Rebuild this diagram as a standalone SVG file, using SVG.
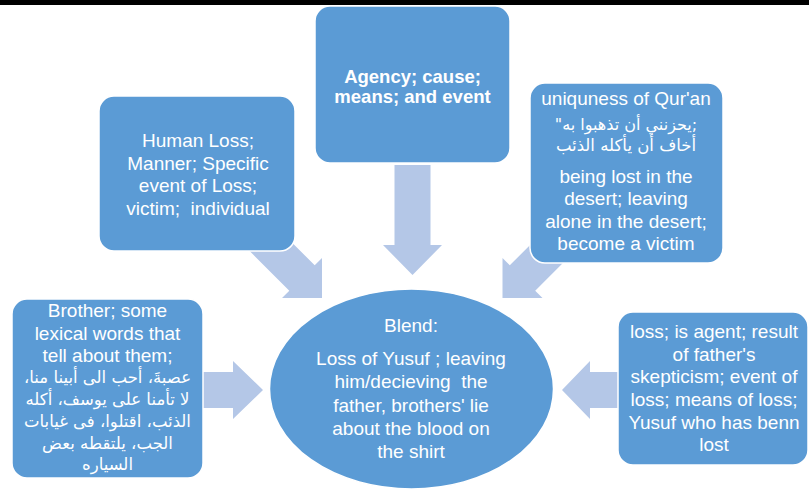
<svg xmlns="http://www.w3.org/2000/svg" width="809" height="489" viewBox="0 0 809 489">
<style>
.box{fill:#5B9BD5;stroke:#fff;stroke-width:1.5}
.arr{fill:#B4C7E7}
.t{font-family:"Liberation Sans",Arial,sans-serif;font-size:19px;fill:#fff;text-anchor:middle}
.b{font-weight:bold;font-size:18.5px}
.ar{font-family:"DejaVu Sans",sans-serif;font-size:16.5px;fill:#fff;text-anchor:middle}
</style>
<rect x="0" y="0" width="809" height="489" fill="#fff"/>
<rect x="0" y="0" width="809" height="5" fill="#000"/>
<g id="connectors">
<polygon class="arr" points="394.5,165 430.5,165 430.5,245 442,245 412.5,275 383,245 394.5,245"/>
<polygon class="arr" points="232.7,234.1 289.3,290.7 282,298 322,298 322,258 314.7,265.3 258.1,208.7"/>
<polygon class="arr" points="591.8,234.1 535.2,290.7 542.5,298 502.5,298 502.5,258 509.8,265.3 566.4,208.7"/>
<polygon class="arr" points="195,372 233,372 233,361 263,390 233,419 233,408 195,408"/>
<polygon class="arr" points="625,372 590,372 590,361 562,390 590,419 590,408 625,408"/>
</g>
<g id="node-agency">
<rect class="box" x="315" y="6" width="195" height="157" rx="15"/>
<text class="t b" x="412.5" y="82.5">Agency; cause;</text>
<text class="t b" x="412.5" y="102.5">means; and event</text>
</g>
<g id="node-human">
<rect class="box" x="99" y="96" width="196" height="155" rx="15"/>
<text class="t" x="198" y="147">Human Loss;</text>
<text class="t" x="198" y="169.5">Manner; Specific</text>
<text class="t" x="198" y="192">event of Loss;</text>
<text class="t" x="198" y="214.5" xml:space="preserve">victim;  individual</text>
</g>
<g id="node-quran">
<rect class="box" x="530" y="83" width="193" height="180" rx="15"/>
<text class="t" x="626" y="105">uniquness of Qur'an</text>
<text class="ar" x="626" y="130" style="font-size:16px">&#x200F;;يحزنني أن تذهبوا به"&#x200F;</text>
<text class="ar" x="626" y="151">أخاف أن يأكله الذئب</text>
<text class="t" x="626" y="182.5">being lost in the</text>
<text class="t" x="626" y="205">desert; leaving</text>
<text class="t" x="626" y="227.5">alone in the desert;</text>
<text class="t" x="626" y="250">become a victim</text>
</g>
<g id="node-brother">
<rect class="box" x="12" y="299" width="191" height="179" rx="15"/>
<text class="t" x="107.5" y="317">Brother; some</text>
<text class="t" x="107.5" y="340">lexical words that</text>
<text class="t" x="107.5" y="362">tell about them;</text>
<text class="ar" x="107.5" y="383">عصبةَ، أحب الى أبينا منا،&#x200F;</text>
<text class="ar" x="107.5" y="405">لا تأمنا على يوسف، أكله</text>
<text class="ar" x="107.5" y="427">الذئب، اقتلوا، فى غيابات</text>
<text class="ar" x="107.5" y="449">الجب، يلتقطه بعض</text>
<text class="ar" x="107.5" y="470">السياره</text>
</g>
<g id="node-loss">
<rect class="box" x="618" y="312" width="190" height="153" rx="15"/>
<text class="t" x="714" y="338">loss; is agent; result</text>
<text class="t" x="714" y="360.7">of father's</text>
<text class="t" x="714" y="383.4">skepticism; event of</text>
<text class="t" x="714" y="406">loss; means of loss;</text>
<text class="t" x="714" y="428.7">Yusuf who has benn</text>
<text class="t" x="714" y="451.4">lost</text>
</g>
<g id="node-blend">
<ellipse class="box" cx="411.5" cy="389" rx="142" ry="100"/>
<text class="t" x="411" y="331.7">Blend:</text>
<text class="t" x="411" y="365">Loss of Yusuf ; leaving</text>
<text class="t" x="411" y="388.3" xml:space="preserve">him/decieving  the</text>
<text class="t" x="411" y="411.7">father, brothers' lie</text>
<text class="t" x="411" y="435">about the blood on</text>
<text class="t" x="411" y="458.3">the shirt</text>
</g>
</svg>
